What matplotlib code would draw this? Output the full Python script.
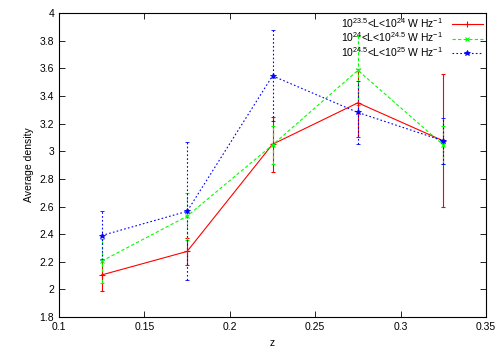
import matplotlib
matplotlib.use("Agg")
import matplotlib.pyplot as plt
from matplotlib.lines import Line2D

z = [0.125, 0.175, 0.225, 0.275, 0.325]
red_vals = [2.105, 2.275, 3.05, 3.35, 3.075]
red_err = [0.115, 0.095, 0.20, 0.245, 0.48]
green_vals = [2.205, 2.53, 3.045, 3.585, 3.045]
green_err = [0.16, 0.17, 0.135, 0.25, 0.135]
blue_vals = [2.39, 2.565, 3.545, 3.28, 3.075]
blue_err = [0.18, 0.50, 0.33, 0.23, 0.165]
labels = [r"$10^{23.5}$<L<$10^{24}$ W Hz$^{-1}$",
          r"$10^{24}$<L<$10^{24.5}$ W Hz$^{-1}$",
          r"$10^{24.5}$<L<$10^{25}$ W Hz$^{-1}$"]

plt.rcParams['font.family'] = ['Liberation Sans', 'DejaVu Sans']
plt.rcParams['mathtext.fontset'] = 'custom'
plt.rcParams['mathtext.rm'] = 'Liberation Sans'
plt.rcParams['mathtext.it'] = 'Liberation Sans'
plt.rcParams['mathtext.default'] = 'regular'

fig = plt.figure(figsize=(5, 3.5), dpi=100)
ax = fig.add_axes([0.118, 0.094, 0.854, 0.869])

styles = [
    dict(color='#ff0000', ls='-', marker='+', ms=5, mew=0.8),
    dict(color='#00ff00', ls=(0, (3, 2)), marker='x', ms=3.5, mew=0.8),
    dict(color='#0000ff', ls=(0, (1.5, 2)), marker='*', ms=4, mew=0.6),
]
data = [(red_vals, red_err), (green_vals, green_err), (blue_vals, blue_err)]
handles = []
for (vals, err), st, lab in zip(data, styles, labels):
    eb = ax.errorbar(z, vals, yerr=err, lw=0.8, capsize=1.5, elinewidth=0.8, **st)
    if st['ls'] != '-':
        for bars in eb[2]:
            bars.set_linestyle(st['ls'])
    handles.append(Line2D([], [], lw=0.8, **st))

ax.set_xlim(0.1, 0.35)
ax.set_ylim(1.8, 4.0)
ax.set_xticks([0.1, 0.15, 0.2, 0.25, 0.3, 0.35])
ax.set_xticklabels(['0.1', '0.15', '0.2', '0.25', '0.3', '0.35'])
ax.set_yticks([1.8, 2, 2.2, 2.4, 2.6, 2.8, 3, 3.2, 3.4, 3.6, 3.8, 4])
ax.set_yticklabels(['1.8', '2', '2.2', '2.4', '2.6', '2.8', '3', '3.2', '3.4', '3.6', '3.8', '4'])
ax.tick_params(direction='in', top=True, right=True, labelsize=7.5, length=4, width=0.6)
for s in ax.spines.values():
    s.set_linewidth(0.8)
ax.set_xlabel('z', fontsize=7.5)
ax.set_ylabel('Average density', fontsize=7.5)

ax.legend(handles, labels, loc='upper right', markerfirst=False, frameon=False, fontsize=7.5,
          handlelength=3, labelspacing=0.05, borderaxespad=0.1, handletextpad=0.8,
          borderpad=0.2)

fig.savefig('out.png', dpi=100)
